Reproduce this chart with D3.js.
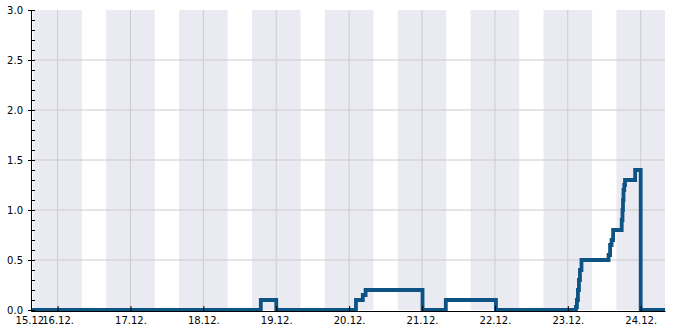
<!DOCTYPE html>
<html>
<head>
<meta charset="utf-8">
<script src="https://cdn.jsdelivr.net/npm/d3@7"></script>
<style>
  body { margin: 0; background: #fff; }
  svg { display: block; font-family: "DejaVu Sans", sans-serif; }
</style>
</head>
<body>
<div id="chart"></div>
<script>
// step series: time of change -> new value
const times = [
  "2023-12-15 15:15", "2023-12-18 18:55", "2023-12-19 00:00",
  "2023-12-20 02:15", "2023-12-20 04:30", "2023-12-20 05:25", "2023-12-21 00:10",
  "2023-12-21 07:50", "2023-12-22 00:20",
  "2023-12-23 02:40", "2023-12-23 03:00", "2023-12-23 03:20", "2023-12-23 03:40",
  "2023-12-23 04:00", "2023-12-23 04:30",
  "2023-12-23 13:25", "2023-12-23 13:55", "2023-12-23 14:25", "2023-12-23 14:55",
  "2023-12-23 17:45", "2023-12-23 18:00", "2023-12-23 18:10", "2023-12-23 18:20",
  "2023-12-23 18:35", "2023-12-23 18:50",
  "2023-12-23 22:10", "2023-12-24 00:00", "2023-12-24 08:00"
];
const values = [
  0, 0.1, 0,
  0.1, 0.15, 0.2, 0,
  0.1, 0,
  0.03, 0.1, 0.2, 0.3,
  0.4, 0.5,
  0.55, 0.65, 0.7, 0.8,
  0.9, 1.0, 1.1, 1.2,
  1.25, 1.3,
  1.4, 0, 0
];
const xTicks = ["2023-12-15 15:15", "2023-12-16 00:00", "2023-12-17 00:00", "2023-12-18 00:00",
  "2023-12-19 00:00", "2023-12-20 00:00", "2023-12-21 00:00", "2023-12-22 00:00",
  "2023-12-23 00:00", "2023-12-24 00:00"];
const yTicks = [0, 0.5, 1.0, 1.5, 2.0, 2.5, 3.0];
// night shading: from 16:00 to 08:00
const nightStartHour = 16;
const nightEndHour = 8;

const parse = d3.timeParse("%Y-%m-%d %H:%M");
const data = times.map((t, i) => ({ t: parse(t), v: values[i] }));

const width = 685;
const height = 330;
const margin = { top: 10, right: 20, bottom: 20, left: 31 };

const svg = d3.select("#chart").append("svg")
  .attr("width", width)
  .attr("height", height);

const x = d3.scaleTime()
  .domain([parse(times[0]), parse(times[times.length - 1])])
  .range([margin.left, width - margin.right]);

const y = d3.scaleLinear()
  .domain([0, 3])
  .range([height - margin.bottom, margin.top]);

// night bands
const [d0, d1] = x.domain();
const bands = [];
d3.timeDay.range(d3.timeDay.floor(d0), d3.timeDay.offset(d1, 1)).forEach(day => {
  const s = d3.timeHour.offset(day, nightStartHour);
  const e = d3.timeHour.offset(day, 24 + nightEndHour);
  const a = s < d0 ? d0 : s;
  const b = e > d1 ? d1 : e;
  if (b > a) bands.push([a, b]);
});
// band before first evening
const firstMorning = d3.timeHour.offset(d3.timeDay.floor(d0), nightEndHour);
if (firstMorning > d0) bands.push([d0, firstMorning]);

svg.append("g")
  .selectAll("rect")
  .data(bands)
  .join("rect")
  .attr("x", d => x(d[0]))
  .attr("y", y(3))
  .attr("width", d => x(d[1]) - x(d[0]))
  .attr("height", y(0) - y(3))
  .attr("fill", "#eaeaf2");

// grid
const dayTicks = xTicks.slice(1).map(parse);
svg.append("g")
  .selectAll("line")
  .data(yTicks.slice(1, -1))
  .join("line")
  .attr("x1", margin.left)
  .attr("x2", width - margin.right)
  .attr("y1", d => y(d))
  .attr("y2", d => y(d))
  .attr("stroke", "#cccccc");

svg.append("g")
  .selectAll("line")
  .data(dayTicks)
  .join("line")
  .attr("x1", d => x(d))
  .attr("x2", d => x(d))
  .attr("y1", y(3))
  .attr("y2", y(0))
  .attr("stroke", "#cccccc");

// series
const line = d3.line()
  .x(d => x(d.t))
  .y(d => y(d.v))
  .curve(d3.curveStepAfter);

svg.append("path")
  .datum(data)
  .attr("d", line)
  .attr("fill", "none")
  .attr("stroke", "#0d5384")
  .attr("stroke-width", 3.8);

// axes
const fmt = d3.timeFormat("%d.%m.");

const xAxis = svg.append("g")
  .attr("transform", `translate(0,${y(0) + 1})`)
  .call(d3.axisBottom(x).tickValues(xTicks.map(parse)).tickFormat(fmt).tickSizeInner(-5).tickSizeOuter(0).tickPadding(4));
xAxis.select(".domain").attr("stroke", "#000");
xAxis.selectAll(".tick text").attr("font-size", "10px").attr("font-family", "DejaVu Sans").attr("fill", "#000").attr("dy", "0.9em");
xAxis.selectAll(".tick").filter((d, i) => i === 0).select("line").remove();

const minor = d3.range(0, 3.01, 0.1).map(v => Math.round(v * 10) / 10);
svg.append("g")
  .attr("transform", `translate(${margin.left},0)`)
  .call(d3.axisLeft(y).tickValues(minor).tickFormat("").tickSizeInner(-4).tickSizeOuter(0))
  .call(g => g.select(".domain").remove());

const yAxis = svg.append("g")
  .attr("transform", `translate(${margin.left},0)`)
  .call(d3.axisLeft(y).tickValues(yTicks).tickFormat(d3.format(".1f")).tickSizeInner(3).tickSizeOuter(0).tickPadding(5));
yAxis.selectAll(".tick line").attr("x2", -3).attr("x1", 4);
yAxis.selectAll(".tick text").attr("font-size", "10px").attr("font-family", "DejaVu Sans").attr("fill", "#000");
</script>
</body>
</html>
